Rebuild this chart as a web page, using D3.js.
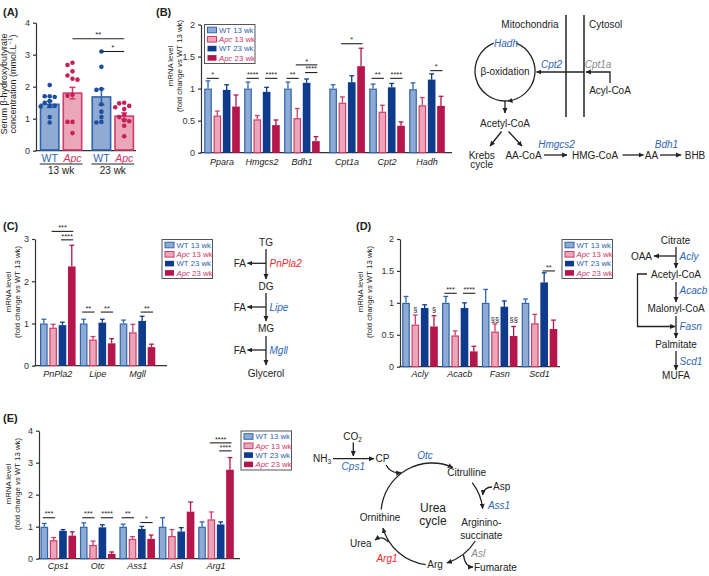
<!DOCTYPE html>
<html><head><meta charset="utf-8">
<script src="https://cdn.jsdelivr.net/npm/d3@7"></script>
<style>body{margin:0;background:#fff}svg{font-family:"Liberation Sans",Arial,Helvetica,sans-serif}</style>
</head><body><svg id="c" width="709" height="576"></svg>
<script>
// ---------------- DATA ----------------
const series = ["WT 13 wk","Apc 13 wk","WT 23 wk","Apc 23 wk"];

// Panel A
const aMean = [1.45, 1.80, 1.68, 1.08];
const aSem  = [0.10, 0.18, 0.25, 0.10];
const aWT13  = [2.05,1.70,1.70,1.68,1.55,1.50,1.40,1.40,1.38,1.05,0.88];
const aApc13 = [2.75,2.68,2.48,2.35,2.25,2.22,1.75,1.72,0.90,0.90,0.55];
const aWT23  = [3.10,2.62,1.93,1.90,1.45,1.22,1.05,0.90,0.88];
const aApc23 = [1.50,1.48,1.40,1.36,1.30,1.12,1.05,0.95,0.92,0.78,0.45];
const aTicks = [0,1,2,3,4];
const aSig = [{a:1,b:3,y:3.5,label:"**"},{a:2,b:3,y:3.1,label:"*"}];

// Panel B
const bGenes = ["Ppara","Hmgcs2","Bdh1","Cpt1a","Cpt2","Hadh"];
const bWT13  = [1.00,1.00,1.00,1.00,1.00,0.99];
const bApc13 = [0.58,0.52,0.54,0.78,0.64,0.74];
const bWT23  = [0.98,0.95,1.09,1.10,1.02,1.14];
const bApc23 = [0.72,0.43,0.18,1.35,0.42,0.73];
const bErrWT13  = [0.12,0.10,0.10,0.06,0.07,0.10];
const bErrApc13 = [0.07,0.06,0.15,0.09,0.10,0.12];
const bErrWT23  = [0.08,0.07,0.06,0.10,0.06,0.09];
const bErrApc23 = [0.18,0.08,0.07,0.28,0.06,0.15];
const bTicks = [0,0.5,1,1.5,2];
const bSig = [
  {gene:"Ppara",a:0,b:1,y:1.16,label:"*"},
  {gene:"Hmgcs2",a:0,b:1,y:1.16,label:"****"},
  {gene:"Hmgcs2",a:2,b:3,y:1.16,label:"****"},
  {gene:"Bdh1",a:0,b:1,y:1.16,label:"**"},
  {gene:"Bdh1",a:1,b:3,y:1.37,label:"*"},
  {gene:"Bdh1",a:2,b:3,y:1.25,label:"****"},
  {gene:"Cpt1a",a:1,b:3,y:1.70,label:"*"},
  {gene:"Cpt2",a:0,b:1,y:1.16,label:"**"},
  {gene:"Cpt2",a:2,b:3,y:1.16,label:"****"},
  {gene:"Hadh",a:2,b:3,y:1.28,label:"*"}
];

// Panel C
const cGenes = ["PnPla2","Lipe","Mgll"];
const cWT13  = [1.00,1.00,1.00];
const cApc13 = [0.90,0.62,0.79];
const cWT23  = [0.96,1.02,1.06];
const cApc23 = [2.35,0.53,0.44];
const cErrWT13  = [0.10,0.10,0.08];
const cErrApc13 = [0.08,0.07,0.19];
const cErrWT23  = [0.07,0.08,0.11];
const cErrApc23 = [0.50,0.11,0.07];
const cTicks = [0,1,2,3];
const cSig = [
  {gene:"PnPla2",a:1,b:3,y:3.18,label:"***"},
  {gene:"PnPla2",a:2,b:3,y:2.98,label:"****"},
  {gene:"Lipe",a:0,b:1,y:1.27,label:"**"},
  {gene:"Lipe",a:2,b:3,y:1.27,label:"**"},
  {gene:"Mgll",a:2,b:3,y:1.27,label:"**"}
];

// Panel D
const dGenes = ["Acly","Acacb","Fasn","Scd1"];
const dWT13  = [1.00,1.00,1.00,1.00];
const dApc13 = [0.66,0.49,0.55,0.68];
const dWT23  = [0.92,0.92,0.94,1.32];
const dApc23 = [0.63,0.24,0.48,0.59];
const dErrWT13  = [0.10,0.10,0.21,0.06];
const dErrApc13 = [0.15,0.07,0.12,0.14];
const dErrWT23  = [0.05,0.08,0.09,0.15];
const dErrApc23 = [0.17,0.08,0.15,0.14];
const dTicks = [0,0.5,1,1.5,2];
const dSig = [
  {gene:"Acacb",a:0,b:1,y:1.15,label:"***"},
  {gene:"Acacb",a:2,b:3,y:1.15,label:"****"},
  {gene:"Scd1",a:2,b:3,y:1.50,label:"**"}
];
const dMarks = [
  {gene:"Acly",s:1,y:0.90,label:"§"},
  {gene:"Acly",s:3,y:0.90,label:"§"},
  {gene:"Fasn",s:1,y:0.74,label:"§§"},
  {gene:"Fasn",s:3,y:0.74,label:"§§"}
];

// Panel E
const eGenes = ["Cps1","Otc","Ass1","Asl","Arg1"];
const eWT13  = [1.00,1.00,1.00,1.00,1.00];
const eApc13 = [0.58,0.43,0.62,0.71,1.23];
const eWT23  = [0.87,0.98,0.93,0.85,1.07];
const eApc23 = [0.72,0.15,0.62,1.47,2.78];
const eErrWT13  = [0.10,0.12,0.08,0.28,0.15];
const eErrApc13 = [0.08,0.12,0.07,0.20,0.23];
const eErrWT23  = [0.04,0.08,0.08,0.12,0.08];
const eErrApc23 = [0.12,0.06,0.12,0.30,0.38];
const eTicks = [0,1,2,3,4];
const eSig = [
  {gene:"Cps1",a:0,b:1,y:1.28,label:"***"},
  {gene:"Otc",a:0,b:1,y:1.28,label:"***"},
  {gene:"Otc",a:2,b:3,y:1.28,label:"****"},
  {gene:"Ass1",a:0,b:1,y:1.28,label:"**"},
  {gene:"Ass1",a:2,b:3,y:1.13,label:"*"},
  {gene:"Arg1",a:1,b:3,y:3.62,label:"****"},
  {gene:"Arg1",a:2,b:3,y:3.37,label:"****"}
];

// ---------------- STYLE ----------------
const FILL   = ["#8fabd3","#eba7ba","#0e3b8c","#b5164b"];
const STROKE = ["#2f65b0","#d03d6c","#0e3b8c","#b5164b"];
const TXTBLUE = "#2e62ae", TXTPINK = "#cf3467";
const GENEBLUE = "#2f66b3", GENERED = "#ee2a2a", GENEGRAY = "#8a8a8a";
const AX = "#333";

const svg = d3.select("#c");
const defs = svg.append("defs");
defs.append("marker").attr("id","ah").attr("viewBox","0 0 10 10").attr("refX",9).attr("refY",5)
  .attr("markerWidth",5.5).attr("markerHeight",5.5).attr("markerUnits","userSpaceOnUse").attr("orient","auto")
  .append("path").attr("d","M0,0.5 L10,5 L0,9.5 z").attr("fill","#222");

function T(x,y,s,o={}){
  const t=svg.append("text").attr("x",x).attr("y",y).attr("text-anchor",o.a||"middle")
    .attr("font-size",o.s||10).attr("fill",o.c||"#222").text(s);
  if(o.i) t.attr("font-style","italic");
  if(o.w) t.attr("font-weight",o.w);
  return t;
}
function L(d,arrow,w){
  const p=svg.append("path").attr("d",d).attr("fill","none").attr("stroke","#222").attr("stroke-width",w||1.3);
  if(arrow) p.attr("marker-end","url(#ah)");
  return p;
}
function arcPath(cx,cy,r,t0,t1){
  const a0=(t0-90)*Math.PI/180, a1=(t1-90)*Math.PI/180;
  const p=d3.path(); p.moveTo(cx+r*Math.cos(a0), cy+r*Math.sin(a0)); p.arc(cx,cy,r,a0,a1,false); return p.toString();
}
function yAxis(y, axisX, ticks){
  const ax = svg.append("g").attr("transform",`translate(${axisX},0)`)
    .call(d3.axisLeft(y).tickValues(ticks).tickSize(3).tickSizeOuter(0).tickPadding(3).tickFormat(d=>String(d)));
  ax.select(".domain").attr("stroke",AX).attr("stroke-width",1.2);
  ax.selectAll(".tick line").attr("stroke",AX).attr("stroke-width",1.2);
  ax.selectAll("text").attr("font-size",9).attr("fill",AX).attr("font-family","Liberation Sans, Arial, sans-serif");
}
function mrnaLabel(cx, cy){
  const g = svg.append("g").attr("transform",`translate(${cx},${cy}) rotate(-90)`);
  g.append("text").attr("text-anchor","middle").attr("y",-4.5).attr("font-size",7.8).attr("fill","#222").text("mRNA level");
  const t = g.append("text").attr("text-anchor","middle").attr("y",4.6).attr("font-size",7.8).attr("fill","#222");
  t.append("tspan").text("(fold change ");
  t.append("tspan").attr("font-style","italic").text("vs");
  t.append("tspan").text(" WT 13 wk)");
}
function legend(x,y){
  const g = svg.append("g").attr("transform",`translate(${x},${y})`);
  g.append("rect").attr("x",0.5).attr("y",0.5).attr("width",50.5).attr("height",39).attr("fill","#fff").attr("stroke","#555").attr("stroke-width",1);
  series.forEach((s,j)=>{
    const ry = 6 + j*9.3;
    g.append("rect").attr("x",3.5).attr("y",ry-2.8).attr("width",9).attr("height",5.6)
      .attr("fill",FILL[j]).attr("stroke",STROKE[j]).attr("stroke-width",(j<2)?1:0);
    const isApc = s.startsWith("Apc");
    const t = g.append("text").attr("x",15).attr("y",ry+2.8).attr("font-size",7.8).attr("fill",isApc?TXTPINK:TXTBLUE);
    if(isApc){ t.append("tspan").attr("font-style","italic").text("Apc"); t.append("tspan").text(s.slice(3)); }
    else t.text(s);
  });
}

function barPanel(o){
  const y = d3.scaleLinear().domain([0,o.max]).range([o.y0,o.yTop]);
  yAxis(y, o.axisX, o.ticks);
  svg.append("line").attr("x1",o.axisX-0.6).attr("x2",o.xEnd).attr("y1",o.y0).attr("y2",o.y0).attr("stroke",AX).attr("stroke-width",1.2);
  const inner = d3.scaleBand().domain(series).range([-17.8,17.8]).paddingInner(0.18);
  const bw = inner.bandwidth();
  const vals = o.m, errs = o.e;
  const barCenter = (gene,j)=> o.x(gene) + inner(series[j]) + bw/2;
  o.genes.forEach((gene,i)=>{
    series.forEach((s,j)=>{
      const v = vals[j][i], e = errs[j][i];
      const bx = o.x(gene) + inner(s);
      const cx = bx + bw/2;
      svg.append("line").attr("x1",cx).attr("x2",cx).attr("y1",y(v)).attr("y2",y(v+e)).attr("stroke",STROKE[j]).attr("stroke-width",1.3);
      svg.append("line").attr("x1",cx-2.4).attr("x2",cx+2.4).attr("y1",y(v+e)).attr("y2",y(v+e)).attr("stroke",STROKE[j]).attr("stroke-width",1.3);
      if(j<2){
        svg.append("rect").attr("x",bx+0.6).attr("y",y(v)+0.6).attr("width",bw-1.2).attr("height",Math.max(0,o.y0-y(v)-0.6))
          .attr("fill",FILL[j]).attr("stroke",STROKE[j]).attr("stroke-width",1.2);
      } else {
        svg.append("rect").attr("x",bx).attr("y",y(v)).attr("width",bw).attr("height",o.y0-y(v)).attr("fill",FILL[j]);
      }
    });
    T(o.x(gene), o.labelY, gene, {s:9, i:true, c:"#222"});
  });
  (o.sigs||[]).forEach(sg=>{
    const x1 = barCenter(sg.gene,sg.a)-1.5, x2 = barCenter(sg.gene,sg.b)+1.5, yy=y(sg.y);
    svg.append("line").attr("x1",x1).attr("x2",x2).attr("y1",yy).attr("y2",yy).attr("stroke","#222").attr("stroke-width",1.1);
    T((x1+x2)/2, yy-1.3, sg.label, {s:7.4, c:"#222"});
  });
  (o.marks||[]).forEach(mk=>{
    T(barCenter(mk.gene,mk.s), y(mk.y)+2.8, mk.label, {s:7.5, c:"#222"});
  });
}

// ---------------- PANEL LABELS ----------------
T(3,16,"(A)",{a:"start",s:11,w:"bold"});
T(156,16,"(B)",{a:"start",s:11,w:"bold"});
T(3,230,"(C)",{a:"start",s:11,w:"bold"});
T(356,230,"(D)",{a:"start",s:11,w:"bold"});
T(3,422,"(E)",{a:"start",s:11,w:"bold"});

// ---------------- PANEL A ----------------
(function(){
  const y = d3.scaleLinear().domain([0,4]).range([150.7,22.7]);
  yAxis(y, 36, aTicks);
  svg.append("line").attr("x1",35.4).attr("x2",136).attr("y1",150.7).attr("y2",150.7).attr("stroke",AX).attr("stroke-width",1.2);
  const pos = d3.scaleLinear().domain([0,3.27]).range([49.7,124.2]);
  const idx = i => i + (i>=2?0.27:0);
  const bw = 20;
  const pts = [aWT13,aApc13,aWT23,aApc23];
  const fill = [FILL[0],FILL[1],FILL[0],FILL[1]];
  const strk = [STROKE[0],STROKE[1],STROKE[0],STROKE[1]];
  const dotC = ["#1d4f9e","#c71f58","#1d4f9e","#c71f58"];
  aMean.forEach((m,i)=>{
    const cx = pos(idx(i));
    svg.append("rect").attr("x",cx-bw/2+0.8).attr("y",y(m)).attr("width",bw-1.6).attr("height",150.7-y(m)-0.8)
      .attr("fill",fill[i]).attr("stroke",strk[i]).attr("stroke-width",1.6);
    const e=aSem[i];
    svg.append("line").attr("x1",cx).attr("x2",cx).attr("y1",y(m-e)).attr("y2",y(m+e)).attr("stroke",strk[i]).attr("stroke-width",1.5);
    [m-e,m+e].forEach(v=> svg.append("line").attr("x1",cx-3).attr("x2",cx+3).attr("y1",y(v)).attr("y2",y(v)).attr("stroke",strk[i]).attr("stroke-width",1.5));
    const placed=[];
    const cand=[0,-5,5,-9,9,-2.5,2.5,-7,7];
    pts[i].slice().sort((a,b)=>b-a).forEach(v=>{
      const py=y(v);
      let best=0;
      for(const c of cand){
        if(placed.every(p=>Math.hypot(p[0]-c,p[1]-py)>=4.6)){best=c;break;}
      }
      placed.push([best,py]);
      svg.append("circle").attr("cx",cx+best).attr("cy",py).attr("r",2.3).attr("fill",dotC[i]);
    });
  });
  aSig.forEach(sg=>{
    const x1=pos(idx(sg.a)), x2=pos(idx(sg.b)), yy=y(sg.y);
    svg.append("line").attr("x1",x1).attr("x2",x2).attr("y1",yy).attr("y2",yy).attr("stroke","#222").attr("stroke-width",1.1);
    T((x1+x2)/2, yy-1.5, sg.label, {s:8});
  });
  ["WT","Apc","WT","Apc"].forEach((s,i)=>{
    T(pos(idx(i)), 161.5, s, {s:10.5, c: s==="WT"?TXTBLUE:TXTPINK, i: s==="Apc"});
  });
  [[0,1,"13 wk"],[2,3,"23 wk"]].forEach(([a,b,lab])=>{
    const x1=pos(idx(a))-bw/2, x2=pos(idx(b))+bw/2;
    svg.append("line").attr("x1",x1).attr("x2",x2).attr("y1",164).attr("y2",164).attr("stroke","#222").attr("stroke-width",1.1);
    T((x1+x2)/2, 174, lab, {s:10});
  });
  const g = svg.append("g").attr("transform","translate(11,84) rotate(-90)");
  g.append("text").attr("text-anchor","middle").attr("y",-4.5).attr("font-size",9).attr("fill","#222").text("Serum β-hydroxybutyrate");
  const t2 = g.append("text").attr("text-anchor","middle").attr("y",4.7).attr("font-size",9).attr("fill","#222");
  t2.append("tspan").text("concentration (mmol.L");
  t2.append("tspan").attr("font-size",6).attr("dy",-3.5).text("−1");
  t2.append("tspan").attr("dy",3.5).text(")");
})();

// ---------------- PANEL B ----------------
(function(){
  const xl = d3.scaleLinear().domain([0,5.13]).range([222,427]);
  const x = g => { const i=bGenes.indexOf(g); return xl(i + (i>=3?0.13:0)); };
  barPanel({genes:bGenes, x, axisX:201, y0:152.7, yTop:24.5, max:2, ticks:bTicks, xEnd:452, labelY:165,
    m:[bWT13,bApc13,bWT23,bApc23], e:[bErrWT13,bErrApc13,bErrWT23,bErrApc23], sigs:bSig});
  mrnaLabel(177, 66);
  legend(204, 24);
})();

// ---------------- PANEL C ----------------
(function(){
  const x = d3.scalePoint().domain(cGenes).range([57.8,137.5]);
  barPanel({genes:cGenes, x, axisX:35, y0:365.7, yTop:239, max:3, ticks:cTicks, xEnd:167, labelY:377,
    m:[cWT13,cApc13,cWT23,cApc23], e:[cErrWT13,cErrApc13,cErrWT23,cErrApc23], sigs:cSig});
  mrnaLabel(15, 292);
  legend(161.5, 239);
})();

// ---------------- PANEL D ----------------
(function(){
  const x = d3.scalePoint().domain(dGenes).range([420,539.5]);
  barPanel({genes:dGenes, x, axisX:400, y0:366.7, yTop:239, max:2, ticks:dTicks, xEnd:560, labelY:377,
    m:[dWT13,dApc13,dWT23,dApc23], e:[dErrWT13,dErrApc13,dErrWT23,dErrApc23], sigs:dSig, marks:dMarks});
  mrnaLabel(367, 292);
  legend(561.5, 239);
})();

// ---------------- PANEL E ----------------
(function(){
  const x = d3.scalePoint().domain(eGenes).range([58.3,216]);
  barPanel({genes:eGenes, x, axisX:39, y0:558.7, yTop:430.7, max:4, ticks:eTicks, xEnd:240, labelY:569,
    m:[eWT13,eApc13,eWT23,eApc23], e:[eErrWT13,eErrApc13,eErrWT23,eErrApc23], sigs:eSig});
  mrnaLabel(15, 484);
  legend(240.5, 430.5);
})();

// ---------------- PATHWAY B ----------------
(function(){
  T(530,28,"Mitochondria",{s:10});
  T(589,28,"Cytosol",{a:"start",s:10});
  L("M566,15 V117",false,1.5);
  L("M584,15 V117",false,1.5);
  L(arcPath(505,71,30,22,175),true);
  L(arcPath(505,71,30,175,338),false);
  T(506,47,"Hadh",{s:10,i:true,c:GENEBLUE});
  T(505,74.5,"β-oxidation",{s:10});
  T(551.5,68,"Cpt2",{s:10,i:true,c:GENEBLUE});
  T(598,68,"Cpt1a",{s:10,i:true,c:GENEGRAY});
  T(610,94,"Acyl-CoA",{s:10});
  L("M610,83 V72 H586",true);
  L("M584,72 H536.5",true);
  L("M505,101 V113",true);
  T(505,127,"Acetyl-CoA",{s:10});
  L("M501.5,131.5 L490,146",true);
  L("M508.5,131.5 L522,146",true);
  T(481.7,158.5,"Krebs",{s:10});
  T(481.7,168,"cycle",{s:10});
  T(523.5,158.5,"AA-CoA",{s:10});
  L("M544,155 H567",true);
  T(556.5,147.5,"Hmgcs2",{s:10,i:true,c:GENEBLUE});
  T(595,158.5,"HMG-CoA",{s:10});
  L("M622.5,155 H643.5",true);
  T(651.5,158.5,"AA",{s:10});
  T(666.5,147.5,"Bdh1",{s:10,i:true,c:GENEBLUE});
  L("M660,155 H681",true);
  T(695,158.5,"BHB",{s:10});
})();

// ---------------- PATHWAY C ----------------
(function(){
  T(266,245.5,"TG",{s:10});
  L("M266,249 V279",true);
  L("M266,263.3 H247.5",true);
  T(246,267,"FA",{a:"end",s:10});
  T(269.5,267,"PnPla2",{a:"start",s:10,i:true,c:GENERED});
  T(266,290,"DG",{s:10});
  L("M266,293 V321",true);
  L("M266,307 H247.5",true);
  T(246,310.5,"FA",{a:"end",s:10});
  T(269.5,310.5,"Lipe",{a:"start",s:10,i:true,c:GENEBLUE});
  T(266,332,"MG",{s:10});
  L("M266,336 V365",true);
  L("M266,350 H247.5",true);
  T(246,353.5,"FA",{a:"end",s:10});
  T(269.5,353.5,"Mgll",{a:"start",s:10,i:true,c:GENEBLUE});
  T(266,377,"Glycerol",{s:10});
})();

// ---------------- PATHWAY D ----------------
(function(){
  T(675.5,243.5,"Citrate",{s:10});
  L("M676,247 V268",true);
  L("M676,256 H654",true);
  T(652,259.5,"OAA",{a:"end",s:10});
  T(679.5,259.5,"Acly",{a:"start",s:10,i:true,c:GENEBLUE});
  T(676,277.5,"Acetyl-CoA",{s:10});
  L("M676,282 V302",true);
  T(679.5,293.5,"Acacb",{a:"start",s:10,i:true,c:GENEBLUE});
  T(676,312,"Malonyl-CoA",{s:10});
  L("M676,316 V338",true);
  L("M647,274 H637.5 V326.5 H675",true);
  T(679.5,330,"Fasn",{a:"start",s:10,i:true,c:GENEBLUE});
  T(676,347.5,"Palmitate",{s:10});
  L("M676,351 V370",true);
  T(679.5,364.5,"Scd1",{a:"start",s:10,i:true,c:GENEBLUE});
  T(676,379,"MUFA",{s:10});
})();

// ---------------- PATHWAY E ----------------
(function(){
  const t = T(352.5,440,"CO",{s:10}); t.append("tspan").attr("font-size",6.5).attr("dy",2).text("2");
  L("M353.3,442.5 V456",true);
  const n = T(313,462,"NH",{a:"start",s:10}); n.append("tspan").attr("font-size",6.5).attr("dy",2).text("3");
  L("M333,458.7 H374",true);
  T(353.3,469.5,"Cps1",{s:10,i:true,c:GENEBLUE});
  T(382.5,462,"CP",{s:10});
  const cx=432, cy=514, r=51;
  L(arcPath(cx,cy,r,-85,24),true);
  L(arcPath(cx,cy,r,52,84),true);
  L(arcPath(cx,cy,r,122,163),true);
  L(arcPath(cx,cy,r,187,254),true);
  L("M386,465 Q391,474 401,472.5",true);
  L("M492,487 Q484,487 482.5,495",true);
  L("M463.5,555 Q465,567 473,567",true);
  L("M388.5,542 Q382,535 375,540",true);
  T(425,458.5,"Otc",{s:10,i:true,c:GENEBLUE});
  T(466.7,476,"Citrulline",{s:10});
  T(493,489.5,"Asp",{a:"start",s:10});
  T(499,508.7,"Ass1",{s:10,i:true,c:GENEBLUE});
  T(481.3,526,"Arginino-",{s:10});
  T(481.3,538.5,"succinate",{s:10});
  T(478.3,557,"Asl",{s:10,i:true,c:GENEGRAY});
  T(474,571,"Fumarate",{a:"start",s:10});
  T(435,567.5,"Arg",{s:10});
  T(387,562,"Arg1",{s:10,i:true,c:GENERED});
  T(360.8,547,"Urea",{s:10});
  T(380,521,"Ornithine",{s:10});
  T(433,512,"Urea",{s:12});
  T(433,524.5,"cycle",{s:12});
})();
</script></body></html>
